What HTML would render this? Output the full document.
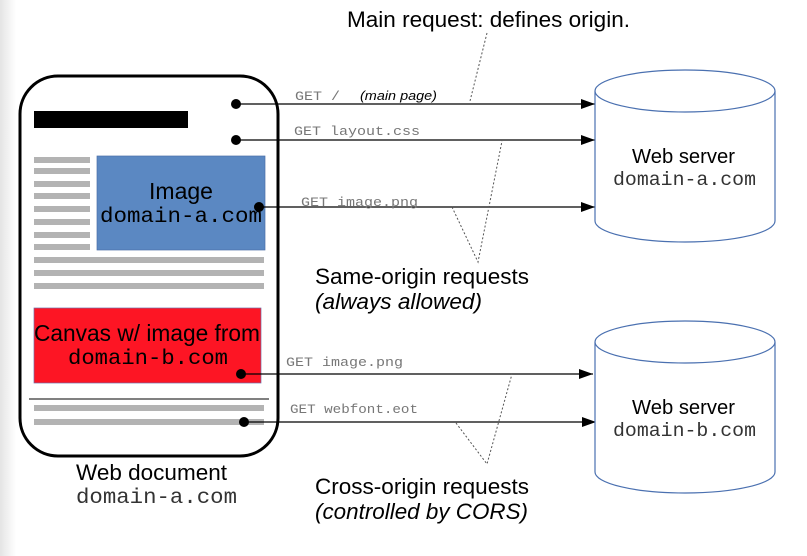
<!DOCTYPE html>
<html><head><style>
html,body{margin:0;padding:0;background:#fff;}
svg{display:block}
.s{font-family:"Liberation Sans",sans-serif}
.m{font-family:"Liberation Mono",monospace}
</style></head><body>
<svg width="807" height="556" viewBox="0 0 807 556" xmlns="http://www.w3.org/2000/svg">
<defs>
<linearGradient id="g" x1="0" x2="1"><stop offset="0" stop-color="#e4e4e4"/><stop offset="1" stop-color="#fff"/></linearGradient>
<marker id="a" markerWidth="14" markerHeight="10" refX="14" refY="5" orient="auto" markerUnits="userSpaceOnUse"><path d="M0,0 L14,5 L0,10 Z" fill="#000"/></marker>
</defs>
<rect x="0" y="0" width="16" height="556" fill="url(#g)"/>
<rect x="20" y="76" width="258" height="380" rx="38" fill="#fff" stroke="#000" stroke-width="3"/>
<rect x="34" y="111" width="154" height="17" fill="#000"/>
<g fill="#b3b3b3">
<rect x="34" y="157" width="56" height="6"/><rect x="34" y="168" width="56" height="6"/><rect x="34" y="181" width="56" height="6"/><rect x="34" y="193" width="56" height="6"/><rect x="34" y="206" width="56" height="6"/><rect x="34" y="219" width="56" height="6"/><rect x="34" y="232" width="56" height="6"/><rect x="34" y="244" width="56" height="6"/>
<rect x="34" y="257" width="230" height="6"/><rect x="34" y="270" width="230" height="6"/><rect x="34" y="283" width="230" height="6"/>
<rect x="34" y="405" width="230" height="6"/><rect x="34" y="419" width="230" height="6"/>
</g>
<rect x="97" y="156" width="168" height="94" fill="#5b88c2" stroke="#4a70a8" stroke-width="0.7"/>
<text x="181" y="199" text-anchor="middle" class="s" font-size="23">Image</text>
<text x="100" y="222" class="m" font-size="21" textLength="162" lengthAdjust="spacingAndGlyphs">domain-a.com</text>
<rect x="34" y="308" width="227" height="75" fill="#fd1524" stroke="#6f6fa8" stroke-width="0.7"/>
<text x="34" y="341" class="s" font-size="23" textLength="226" lengthAdjust="spacingAndGlyphs">Canvas w/ image from</text>
<text x="68" y="364" class="m" font-size="21" textLength="160" lengthAdjust="spacingAndGlyphs">domain-b.com</text>
<line x1="29" y1="399" x2="269" y2="399" stroke="#000" stroke-width="1"/>
<g stroke="#000" stroke-width="1.2">
<line x1="236" y1="104" x2="595" y2="104" marker-end="url(#a)"/>
<line x1="236" y1="140" x2="595" y2="140" marker-end="url(#a)"/>
<line x1="259" y1="207" x2="595" y2="207" marker-end="url(#a)"/>
<line x1="241" y1="374" x2="593" y2="374" marker-end="url(#a)"/>
<line x1="244" y1="422" x2="596" y2="422" marker-end="url(#a)"/>
</g>
<g fill="#000">
<circle cx="236" cy="104" r="5"/><circle cx="236" cy="140" r="5"/><circle cx="259" cy="207" r="5"/><circle cx="241" cy="374" r="5"/><circle cx="244" cy="422" r="5"/>
</g>
<g fill="#777" class="m" font-size="13">
<text x="295" y="100" textLength="45" lengthAdjust="spacingAndGlyphs">GET /</text>
<text x="294" y="135" textLength="126" lengthAdjust="spacingAndGlyphs">GET layout.css</text>
<text x="301" y="206" textLength="117" lengthAdjust="spacingAndGlyphs">GET image.png</text>
<text x="286" y="366" textLength="117" lengthAdjust="spacingAndGlyphs">GET image.png</text>
<text x="290" y="413" textLength="128" lengthAdjust="spacingAndGlyphs">GET webfont.eot</text>
</g>
<text x="360" y="100" class="s" font-size="13" font-style="italic" textLength="77" lengthAdjust="spacingAndGlyphs">(main page)</text>
<g stroke="#555" stroke-width="1" stroke-dasharray="2,2" fill="none">
<polyline points="487,33 470,101"/>
<polyline points="452,207 478,262 502,141"/>
<polyline points="456,423 487,464 512,374"/>
</g>
<text x="347" y="27" class="s" font-size="22" textLength="283" lengthAdjust="spacingAndGlyphs">Main request: defines origin.</text>
<text x="315" y="284" class="s" font-size="22" textLength="214" lengthAdjust="spacingAndGlyphs">Same-origin requests</text>
<text x="315" y="309" class="s" font-size="22" font-style="italic" textLength="167" lengthAdjust="spacingAndGlyphs">(always allowed)</text>
<text x="315" y="494" class="s" font-size="22" textLength="214" lengthAdjust="spacingAndGlyphs">Cross-origin requests</text>
<text x="315" y="519" class="s" font-size="22" font-style="italic" textLength="213" lengthAdjust="spacingAndGlyphs">(controlled by CORS)</text>
<text x="76" y="480" class="s" font-size="22" textLength="151" lengthAdjust="spacingAndGlyphs">Web document</text>
<text x="76" y="503" class="m" font-size="21" fill="#333" textLength="161" lengthAdjust="spacingAndGlyphs">domain-a.com</text>
<g fill="#fff" stroke="#4a70b0" stroke-width="1.2">
<path d="M595,91 L595,221 A90,21 0 0 0 775,221 L775,91"/>
<ellipse cx="685" cy="91" rx="90" ry="21"/>
<path d="M595,342 L595,472 A90,21 0 0 0 775,472 L775,342"/>
<ellipse cx="685" cy="342" rx="90" ry="21"/>
</g>
<text x="632" y="163" class="s" font-size="20" textLength="103" lengthAdjust="spacingAndGlyphs">Web server</text>
<text x="613" y="185" class="m" font-size="19" fill="#333" textLength="143" lengthAdjust="spacingAndGlyphs">domain-a.com</text>
<text x="632" y="414" class="s" font-size="20" textLength="103" lengthAdjust="spacingAndGlyphs">Web server</text>
<text x="613" y="436" class="m" font-size="19" fill="#333" textLength="143" lengthAdjust="spacingAndGlyphs">domain-b.com</text>
</svg>
</body></html>
